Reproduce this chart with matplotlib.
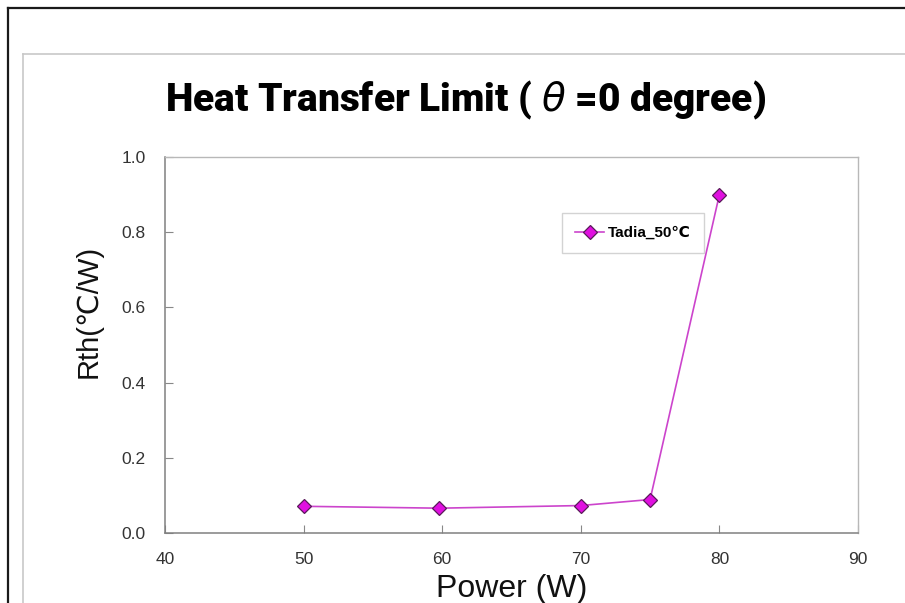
import matplotlib
matplotlib.use("Agg")
import matplotlib.pyplot as plt
from matplotlib.lines import Line2D

power = [50, 59.8, 70, 75, 80]
rth = [0.071, 0.066, 0.073, 0.089, 0.90]
series_name = "Tadia_50℃"
x_ticks = [40, 50, 60, 70, 80, 90]
y_ticks = [0.0, 0.2, 0.4, 0.6, 0.8, 1.0]

plt.rcParams['font.family'] = ['Liberation Sans', 'DejaVu Sans']

W, H = 905, 603
fig = plt.figure(figsize=(W / 100, H / 100), dpi=100)

def fx(px):
    return px / W

def fy(py):
    return 1 - py / H

# outer black frame and inner grey slide frame
fig.add_artist(Line2D([fx(7.5), fx(7.5)], [fy(8), 0], color='#1a1a1a', lw=1.6))
fig.add_artist(Line2D([fx(7.5), 1], [fy(8), fy(8)], color='#1a1a1a', lw=1.6))
fig.add_artist(Line2D([fx(23), fx(23)], [fy(54), 0], color='#c8c8c8', lw=1.2))
fig.add_artist(Line2D([fx(23), 1], [fy(54), fy(54)], color='#c8c8c8', lw=1.2))

ax = fig.add_axes([fx(165), fy(533), fx(858) - fx(165), fy(157) - fy(533)])
ax.plot(power, rth, color='#cc44cc', lw=1.2, marker='D', markersize=7,
        markerfacecolor='#e010e0', markeredgecolor='#5a1a5a', markeredgewidth=0.9,
        label=series_name)

ax.set_xlim(40, 90)
ax.set_ylim(0, 1.0)
ax.set_xticks(x_ticks)
ax.set_yticks(y_ticks)
ax.set_yticklabels([f"{v:.1f}" for v in y_ticks])
ax.tick_params(direction='in', length=6, width=0.8, color='#888888',
               labelsize=12.5, labelcolor='#333333', pad=14)

for side in ['left', 'bottom']:
    ax.spines[side].set_color('#808080')
    ax.spines[side].set_linewidth(1.1)
for side in ['top', 'right']:
    ax.spines[side].set_color('#b8b8b8')
    ax.spines[side].set_linewidth(1.0)

ax.set_xlabel("Power (W)", fontsize=23, labelpad=5, color='#111111')
ax.set_ylabel("Rth(℃/W)", fontsize=21, color='#111111')
ax.yaxis.set_label_coords(-0.09, 0.59)

leg = ax.legend(loc='upper left', bbox_to_anchor=(0.573, 0.851), frameon=True,
                fancybox=False, edgecolor='#c8c8c8', handlelength=1.9,
                handletextpad=0.25, borderpad=0.85, borderaxespad=0,
                prop={'weight': 'bold', 'size': 11})
leg.get_frame().set_linewidth(1.0)

fig.text(fx(466), fy(100), "Heat Transfer Limit ( $\\theta$ =0 degree)",
         ha='center', va='center', fontsize=28, fontweight='black',
         family=['Roboto', 'Liberation Sans', 'DejaVu Sans'], color='black')

fig.savefig("out.png", dpi=100)
